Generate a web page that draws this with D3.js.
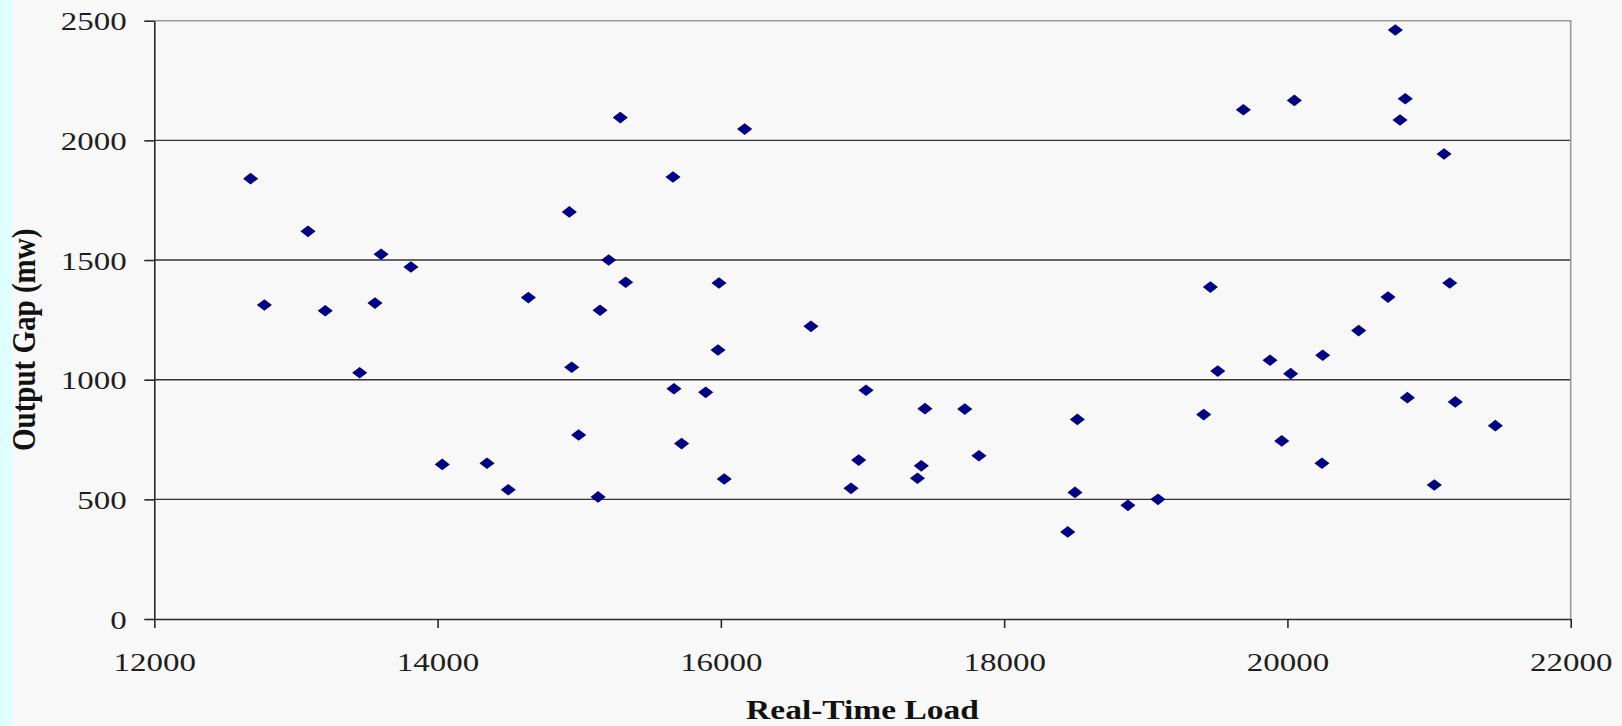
<!DOCTYPE html>
<html>
<head>
<meta charset="utf-8">
<script src="https://cdnjs.cloudflare.com/ajax/libs/d3/7.8.5/d3.min.js"></script>
<style>
  body { margin: 0; background: #f8f8f8; }
  svg { display: block; }
</style>
</head>
<body>
<div id="scatter"></div>
<script>
// Real-time load (x) values
var loadValues = [12680, 12777, 13085, 13207, 13450, 13558, 13601, 13812, 14033, 14349,
    14499, 14641, 14930, 14947, 14996, 15133, 15147, 15208, 15290, 15328,
    15662, 15669, 15723, 15893, 15980, 15987, 16024, 16168, 16636, 16919,
    16973, 17025, 17388, 17415, 17441, 17722, 17822, 18449, 18500, 18517,
    18874, 19086, 19409, 19456, 19508, 19689, 19877, 19960, 20023, 20049,
    20244, 20249, 20503, 20710, 20762, 20795, 20832, 20847, 21037, 21106,
    21146, 21185, 21468];

// Output gap (y) values, same order
var gapValues = [1840, 1312, 1620, 1288, 1029, 1320, 1524, 1471, 646, 651,
    540, 1343, 1701, 1052, 769, 510, 1290, 1500, 2095, 1407,
    1847, 962, 733, 947, 1124, 1404, 585, 2047, 1223, 546,
    664, 956, 588, 640, 879, 877, 682, 364, 529, 834,
    475, 500, 854, 1387, 1036, 2128, 1081, 744, 1025, 2167,
    651, 1102, 1205, 1345, 2461, 2085, 2174, 925, 560, 1943,
    1404, 907, 808];

// Tick labels
var xTicks = [12000, 14000, 16000, 18000, 20000, 22000];
var yTicks = [0, 500, 1000, 1500, 2000, 2500];

//SVG Height and Width
var svgWidth = 1622;
var svgHeight = 726;

// Margins of SVG object
var margin = {
    top: 20.7,
    right: 51.3,
    bottom: 107,
    left: 154.3
};

var chartWidth = svgWidth - margin.left - margin.right;
var chartHeight = svgHeight - margin.top - margin.bottom;

// text in the picture is stretched sideways
var stretch = 1.32;

var svg = d3.select("#scatter")
    .append("svg")
    .attr("width", svgWidth)
    .attr("height", svgHeight);

// page background and the cyan strip at the left
svg.append("rect")
    .attr("width", svgWidth)
    .attr("height", svgHeight)
    .attr("fill", "#f8f8f8");

svg.append("rect")
    .attr("width", 12)
    .attr("height", svgHeight)
    .attr("fill", "#dfffff");

var chartGroup = svg.append("g")
    .attr("transform", `translate(${margin.left}, ${margin.top})`);

var data = loadValues.map(function(d, i) {
    return { load: d, gap: gapValues[i] };
});

var xScale = d3.scaleLinear()
    .domain([12000, 22000])
    .range([0, chartWidth]);

var yScale = d3.scaleLinear()
    .domain([0, 2500])
    .range([chartHeight, 0]);

// horizontal gridlines
chartGroup.selectAll(".grid")
    .data(yTicks.filter(d => d > 0 && d < 2500))
    .enter()
    .append("line")
    .attr("class", "grid")
    .attr("x1", 0)
    .attr("x2", chartWidth)
    .attr("y1", d => yScale(d))
    .attr("y2", d => yScale(d))
    .attr("stroke", "#333")
    .attr("stroke-width", 1.4);

// grey frame at the top and right
chartGroup.append("path")
    .attr("d", `M0,${yScale(2500)}H${chartWidth}V${chartHeight}`)
    .attr("fill", "none")
    .attr("stroke", "#9a9a9a")
    .attr("stroke-width", 1.6);

var bottomAxis = d3.axisBottom(xScale)
    .tickValues(xTicks)
    .tickSize(9)
    .tickSizeOuter(0)
    .tickFormat(d3.format("d"));

var leftAxis = d3.axisLeft(yScale)
    .tickValues(yTicks)
    .tickSize(10)
    .tickSizeOuter(0)
    .tickFormat(d3.format("d"));

var xAxisGroup = chartGroup.append("g")
    .attr("transform", `translate(0, ${chartHeight})`)
    .call(bottomAxis);

var yAxisGroup = chartGroup.append("g")
    .call(leftAxis);

[xAxisGroup, yAxisGroup].forEach(function(g) {
    g.selectAll("path, line")
        .attr("stroke", "#2a2a2a")
        .attr("stroke-width", 1.6);
    g.selectAll("text")
        .attr("fill", "#1e1e1e")
        .style("font-family", "'Liberation Serif', 'Times New Roman', serif")
        .style("font-size", "25px");
});

xAxisGroup.selectAll("text")
    .attr("y", 52)
    .attr("dy", 0)
    .attr("transform", `scale(${stretch}, 1)`);

yAxisGroup.selectAll("text")
    .attr("x", -27.6 / stretch)
    .attr("dy", "0.36em")
    .attr("transform", `scale(${stretch}, 1)`);

// diamonds
chartGroup.selectAll(".dot")
    .data(data)
    .enter()
    .append("path")
    .attr("class", "dot")
    .attr("d", d3.symbol().type(d3.symbolSquare).size(64))
    .attr("transform", d => `translate(${xScale(d.load)}, ${yScale(d.gap)}) scale(1.34, 1.03) rotate(45)`)
    .attr("fill", "#000080");

// Add the axes labels
svg.append("text")
    .attr("transform", `translate(35, ${margin.top + chartHeight / 2 + 20}) scale(1.13, 1) rotate(-90)`)
    .attr("text-anchor", "middle")
    .style("font-family", "'Liberation Serif', 'Times New Roman', serif")
    .style("font-weight", "bold")
    .style("font-size", "29px")
    .attr("fill", "#111")
    .text("Output Gap (mw)");

svg.append("text")
    .attr("transform", `translate(${margin.left + chartWidth / 2}, 719) scale(1.24, 1)`)
    .attr("text-anchor", "middle")
    .style("font-family", "'Liberation Serif', 'Times New Roman', serif")
    .style("font-weight", "bold")
    .style("font-size", "27px")
    .attr("fill", "#111")
    .text("Real-Time Load");
</script>
</body>
</html>
